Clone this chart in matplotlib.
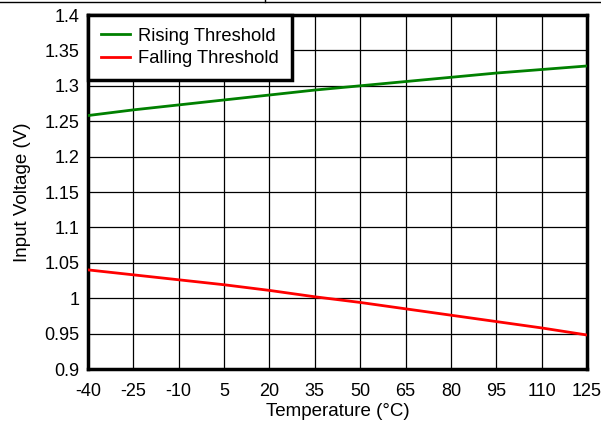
import matplotlib.pyplot as plt
from matplotlib.lines import Line2D
import numpy as np

plt.rcParams['font.family'] = ['Liberation Sans', 'DejaVu Sans']
plt.rcParams['axes.unicode_minus'] = False

temps = [-40, -25, -10, 5, 20, 35, 50, 65, 80, 95, 110, 125]
rising = [1.258, 1.266, 1.273, 1.280, 1.287, 1.294, 1.300, 1.306, 1.312, 1.318, 1.323, 1.328]
falling = [1.040, 1.033, 1.026, 1.019, 1.011, 1.002, 0.994, 0.985, 0.976, 0.967, 0.958, 0.948]
yticks = [0.9, 0.95, 1.0, 1.05, 1.1, 1.15, 1.2, 1.25, 1.3, 1.35, 1.4]

fig = plt.figure(figsize=(6.01, 4.24), dpi=100)
ax = fig.add_axes([88/601, 1-369/424, (587-88)/601, (369-15)/424])

ax.plot(temps, rising, color='#008000', lw=2, label='Rising Threshold', zorder=3)
ax.plot(temps, falling, color='#ff0000', lw=2, label='Falling Threshold', zorder=3)

ax.set_xlim(-40, 125)
ax.set_ylim(0.9, 1.4)
ax.set_xticks(temps)
ax.set_yticks(yticks)
ax.set_yticklabels(['%g' % v for v in yticks])
ax.grid(True, color='black', lw=0.9)
ax.tick_params(length=0, labelsize=13)
ax.tick_params(axis='x', pad=10)
ax.tick_params(axis='y', pad=6)
for s in ax.spines.values():
    s.set_linewidth(2.5)

ax.set_xlabel('Temperature (°C)', fontsize=13.5, labelpad=2)
ax.set_ylabel('Input Voltage (V)', fontsize=13.5, labelpad=10)

leg = ax.legend(loc='upper left', borderaxespad=0, fancybox=False, framealpha=1,
                fontsize=13.2, handlelength=1.6, handletextpad=0.45,
                borderpad=0.7, labelspacing=0.3)
leg.get_frame().set_edgecolor('black')
leg.get_frame().set_linewidth(2.5)

# thin rule across the top of the page
fig.add_artist(Line2D([0, 1], [1-2/424, 1-2/424], color='black', lw=1))
fig.add_artist(Line2D([265/601, 265/601], [1, 1-2/424], color='black', lw=1))

fig.savefig('out.png', dpi=100)
